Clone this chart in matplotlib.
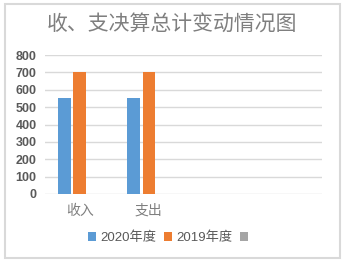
import matplotlib.pyplot as plt
from matplotlib.patches import Rectangle
import numpy as np

# chart data
categories = ['收入', '支出', '', '']
values_2020 = [550, 550, np.nan, np.nan]
values_2019 = [700, 700, np.nan, np.nan]
values_3 = [np.nan, np.nan, np.nan, np.nan]
series_names = ['2020年度', '2019年度', '']
colors = ['#5b9bd5', '#ed7d31', '#a5a5a5']

plt.rcParams['font.family'] = ['Liberation Sans', 'Noto Sans CJK SC', 'DejaVu Sans']

fig = plt.figure(figsize=(3.44, 2.62), dpi=100)
# outer chart border
fig.patches.append(Rectangle((4.5 / 344, 1 - 257.5 / 262), 335.5 / 344, 253.5 / 262,
                             transform=fig.transFigure, fill=False,
                             edgecolor='#d9d9d9', linewidth=1.5))

ax = fig.add_axes([45 / 344, 1 - 194 / 262, 277 / 344, 139 / 262])
x = np.arange(len(categories))
w = 0.18
handles = []
for i, vals in enumerate([values_2020, values_2019, values_3]):
    b = ax.bar(x + (i - 1) * 0.22, vals, width=w, color=colors[i], zorder=3)
    handles.append(b)

ax.set_xlim(-0.5, len(categories) - 0.5)
ax.set_ylim(0, 800)
ax.set_yticks(range(0, 801, 100))
ax.yaxis.grid(True, color='#d9d9d9', linewidth=1)
ax.set_axisbelow(True)
for s in ax.spines.values():
    s.set_visible(False)
ax.tick_params(length=0)
ax.tick_params(axis='y', labelsize=9, labelcolor='#595959', pad=6)
ax.set_xticks(x)
ax.set_xticklabels(categories, fontsize=10, color='#7f7f7f')
ax.tick_params(axis='x', pad=7)
for lbl in ax.get_yticklabels():
    lbl.set_fontweight('bold')

fig.text(0.5, 1 - 25 / 262, '收、支决算总计变动情况图', ha='center', va='center',
         fontsize=15, color='#7f7f7f', family=['Noto Sans CJK SC'])

fig.legend(handles, series_names, loc='center', bbox_to_anchor=(170 / 344, 1 - 238 / 262),
           ncol=3, frameon=False, fontsize=9.5, handlelength=0.6, handleheight=0.6,
           handletextpad=0.3, columnspacing=0.6, labelcolor='#595959')

fig.savefig('out.png', dpi=100)
